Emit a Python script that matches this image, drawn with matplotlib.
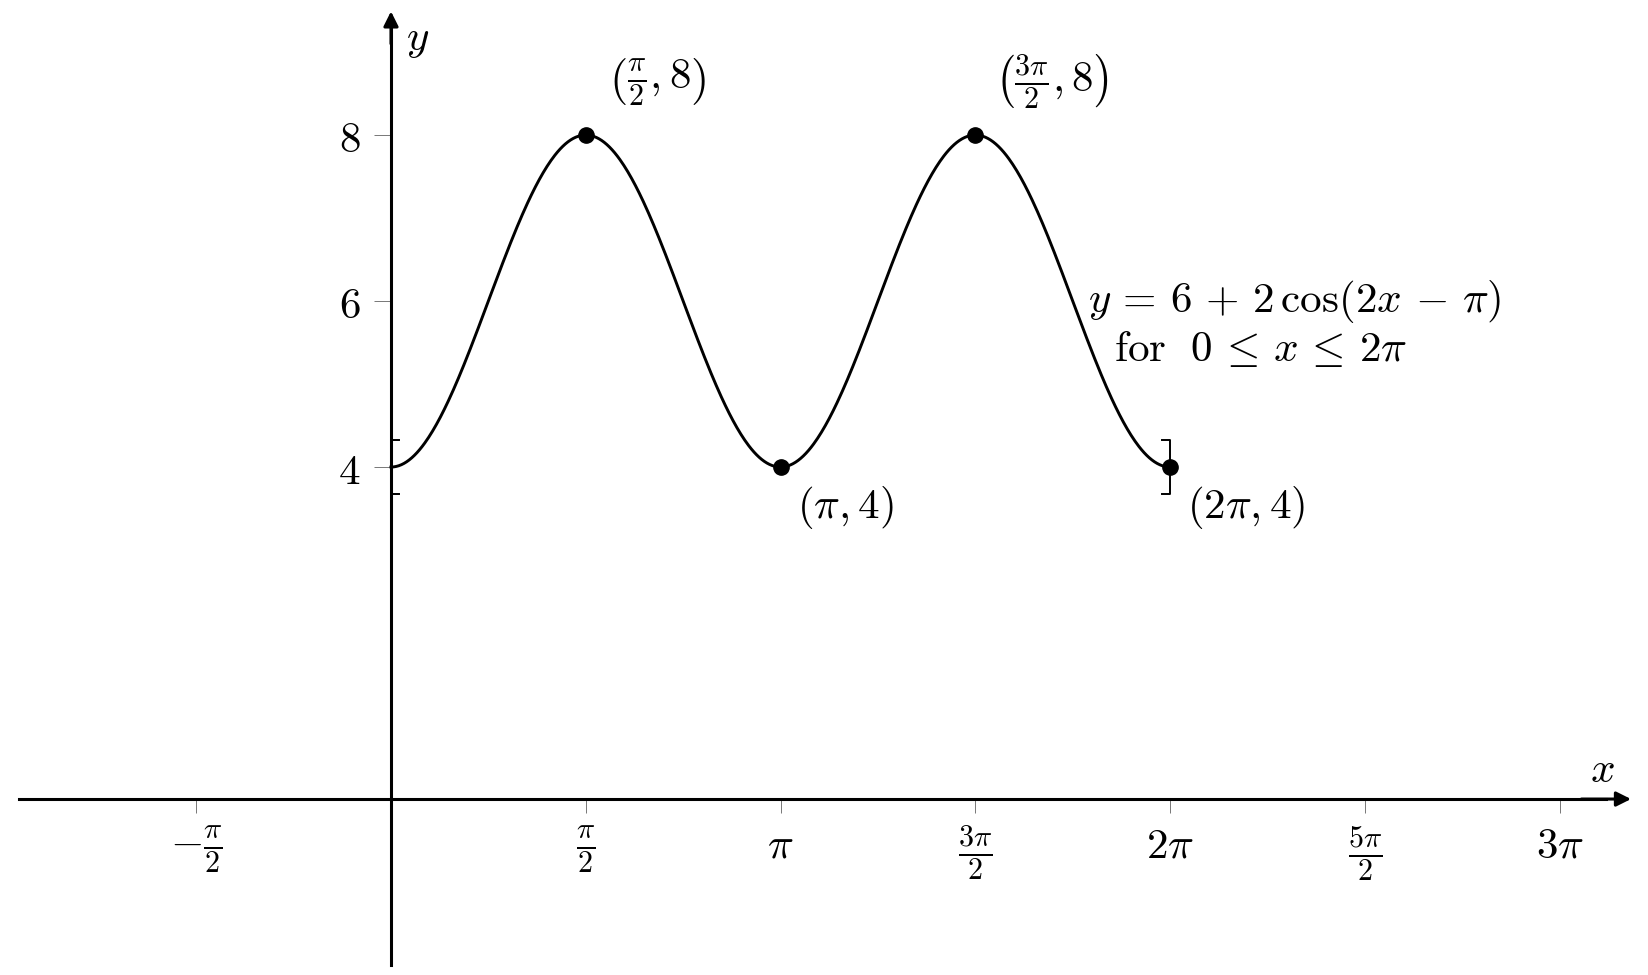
import numpy as np
import matplotlib
matplotlib.use("Agg")
import matplotlib.pyplot as plt

plt.rcParams['mathtext.fontset'] = 'cm'
plt.rcParams['font.family'] = ['DejaVu Serif']

# ---- data ----
x_start, x_end = 0.0, 2 * np.pi
x_ticks = [-np.pi / 2, np.pi / 2, np.pi, 3 * np.pi / 2, 2 * np.pi, 5 * np.pi / 2, 3 * np.pi]
x_tick_labels = [r'$-\frac{\pi}{2}$', r'$\frac{\pi}{2}$', r'$\pi$', r'$\frac{3\pi}{2}$',
                 r'$2\pi$', r'$\frac{5\pi}{2}$', r'$3\pi$']
y_ticks = [4, 6, 8]
y_tick_labels = ['$4$', '$6$', '$8$']
pt_x = [np.pi / 2, np.pi, 3 * np.pi / 2, 2 * np.pi]
pt_y = [8, 4, 8, 4]
pt_labels = [r'$\left(\frac{\pi}{2}, 8\right)$', r'$(\pi, 4)$',
             r'$\left(\frac{3\pi}{2}, 8\right)$', r'$(2\pi, 4)$']
pt_offsets = [(52, 38), (47, -29), (55, 38), (55, -29)]  # points

FS = 31


def f(x):
    return 6 + 2 * np.cos(2 * x - np.pi)


xs = np.linspace(x_start, x_end, 600)
ys = f(xs)

fig = plt.figure(figsize=(16.48, 9.75), dpi=100)
ax = fig.add_axes([0, 0, 1, 1])
ax.set_xlim(-3.153, 10.137)
ax.set_ylim(-2.12, 9.627)
for s in ['top', 'right']:
    ax.spines[s].set_visible(False)
ax.spines['left'].set_position(('data', 0))
ax.spines['bottom'].set_position(('data', 0))
ax.spines['left'].set_bounds(-2.0, 9.3)
ax.spines['bottom'].set_bounds(-3.0, 9.8)
ax.spines['left'].set_linewidth(2.2)
ax.spines['bottom'].set_linewidth(2.2)
ax.patch.set_visible(False)

# arrows
ax.annotate('', xy=(10.0, 0), xytext=(9.6, 0),
            arrowprops=dict(arrowstyle='-|>', lw=2.2, color='black', mutation_scale=22,
                            shrinkA=0, shrinkB=0))
ax.annotate('', xy=(0, 9.49), xytext=(0, 9.1),
            arrowprops=dict(arrowstyle='-|>', lw=2.2, color='black', mutation_scale=22,
                            shrinkA=0, shrinkB=0))

ax.set_xticks(x_ticks)
ax.set_xticklabels(x_tick_labels, fontsize=FS)
ax.set_yticks(y_ticks)
ax.set_yticklabels(y_tick_labels, fontsize=FS)
ax.tick_params(axis='x', direction='out', length=10, width=0.7, color='#777777', pad=8)
ax.tick_params(axis='y', direction='out', length=12, width=0.7, color='#777777', pad=10)

# curve
ax.plot(xs, ys, color='black', lw=2.1, zorder=3)

# interval brackets
bh, bw = 0.32, 0.065
ax.plot([x_start + bw, x_start, x_start, x_start + bw],
        [f(x_start) + bh, f(x_start) + bh, f(x_start) - bh, f(x_start) - bh],
        color='black', lw=1.4, zorder=3)
ax.plot([x_end - bw, x_end, x_end, x_end - bw],
        [f(x_end) + bh, f(x_end) + bh, f(x_end) - bh, f(x_end) - bh],
        color='black', lw=1.4, zorder=3)

# points
ax.plot(pt_x, pt_y, 'o', color='black', markersize=11, zorder=4)
for x, y, lab, off in zip(pt_x, pt_y, pt_labels, pt_offsets):
    ax.annotate(lab, xy=(x, y), xytext=off, textcoords='offset points',
                ha='center', va='center', fontsize=FS)

# axis labels
ax.text(0.218, 9.155, '$y$', fontsize=FS, ha='center', va='center')
ax.text(9.766, 0.345, '$x$', fontsize=FS, ha='center', va='center')

# formula
ax.text(7.29, 5.99, r'$y\,=\,6\,+\,2\,\cos(2x\,-\,\pi)$', fontsize=FS, ha='center', va='center')
ax.text(7.016, 5.42, r'$\mathrm{for}\ \ 0\,\leq\,x\,\leq\,2\pi$', fontsize=FS, ha='center', va='center')

fig.savefig('out.png', dpi=100)
